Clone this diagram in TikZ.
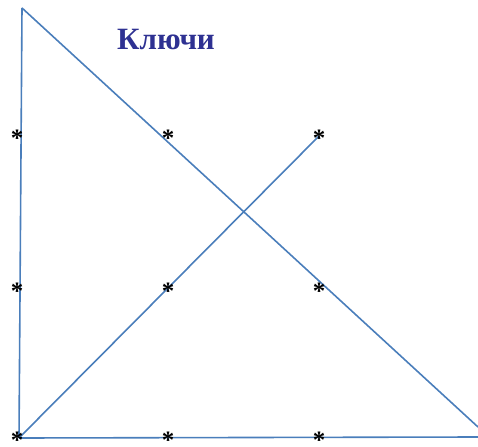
\documentclass[tikz,border=0pt]{standalone}
\usepackage{fontspec}
\setmainfont{Liberation Serif}
\usetikzlibrary{positioning}

\definecolor{linecol}{RGB}{74,126,187}
\definecolor{titlecol}{RGB}{46,49,146}

\begin{document}
\begin{tikzpicture}[
    x=1pt, y=-1pt,
    edge/.style  = {draw=linecol, line width=1.6pt},
    star/.style  = {inner sep=0pt, font=\fontsize{25}{25}\selectfont\bfseries, yshift=-2.5pt},
    title/.style = {font=\fontsize{31}{31}\selectfont\bfseries, text=titlecol},
]
\useasboundingbox (0,0) rectangle (478,446);

% --- corner points ---
\coordinate (top) at (22,8);
\coordinate (bl)  at (19,438);
\coordinate (br)  at (478,427);
\coordinate (be)  at (478,437);
\coordinate (tip) at (319,136);

% --- lines ---
\draw[edge] (top) -- (bl);
\draw[edge] (top) -- (br);
\draw[edge] (bl) -- (be);
\draw[edge] (bl) -- (tip);

% --- title ---
\node[title] (keys) at (166,40) {Ключи};

% --- asterisks ---
\node[star] (s11) at (17,136)  {*};
\node[star] (s12) at (168,136) {*};
\node[star] (s13) at (319,136) {*};
\node[star] (s21) at (17,289)  {*};
\node[star] (s22) at (168,289) {*};
\node[star] (s23) at (319,289) {*};
\node[star] (s31) at (17,438)  {*};
\node[star] (s32) at (168,438) {*};
\node[star] (s33) at (319,438) {*};

\end{tikzpicture}
\end{document}
